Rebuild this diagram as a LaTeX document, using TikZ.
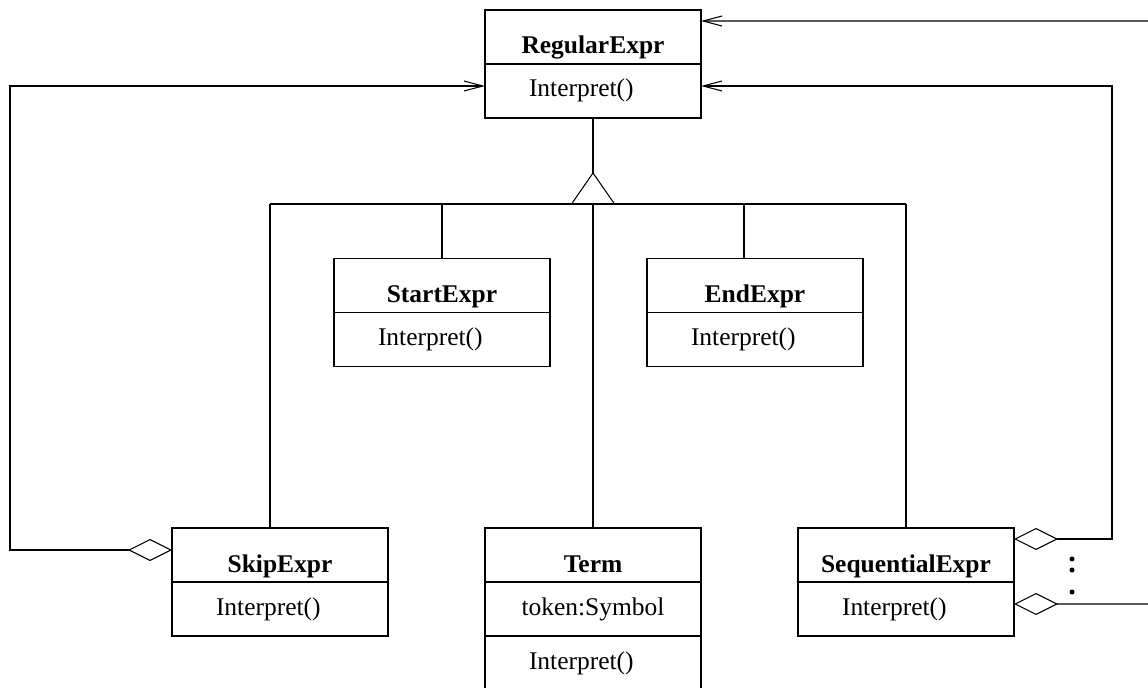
\documentclass[tikz,border=0pt]{standalone}
\usepackage{fontspec}
\setmainfont{Liberation Serif}
\usepackage{tikz}
\usetikzlibrary{positioning, arrows.meta}

\begin{document}
\begin{tikzpicture}[font=\fontsize{14.5}{17}\selectfont, line width=0.6pt,
  cl/.style={rectangle, draw=black, minimum width=4.32cm, minimum height=1.08cm, inner sep=0pt, outer sep=0pt, text height=0.88cm, text depth=0.2cm, font=\fontsize{14.5}{17}\selectfont\bfseries},
  sub/.style={rectangle, draw=black, minimum width=4.32cm, minimum height=1.08cm, inner xsep=0.88cm, inner ysep=0pt, outer sep=0pt, text width=2.56cm, text height=0.66cm, text depth=0.42cm, align=left, anchor=north},
  attr/.style={rectangle, draw=black, minimum width=4.32cm, minimum height=1.08cm, inner sep=0pt, outer sep=0pt, text height=0.66cm, text depth=0.42cm, align=center, anchor=north},
  odiam/.tip={Diamond[open, length=0.88cm, width=0.44cm]},
  barb/.tip={Straight Barb[length=0.38cm, width=0.2cm]}]
%

%help grid
%\draw[help lines] (0,0) grid (23,14);

\useasboundingbox (0,0) rectangle (22.96,13.74);

%%% nodes and boxes

%%% REGULAR EXPR
\node [cl] (regular-cl) at (11.86,13.00) {RegularExpr};
\node [sub] (regular-sub) at (regular-cl.south) {Interpret()};

%%% START EXPR
\node [cl] (start-cl) at (8.84,8.03) {StartExpr};
\node [sub] (start-sub) at (start-cl.south) {Interpret()};

%%% END EXPR
\node [cl] (end-cl) at (15.10,8.03) {EndExpr};
\node [sub] (end-sub) at (end-cl.south) {Interpret()};

%%% SKIP EXPR
\node [cl] (skip-cl) at (5.60,2.64) {SkipExpr};
\node [sub] (skip-sub) at (skip-cl.south) {Interpret()};

%%% TERM
\node [cl] (term-cl) at (11.86,2.64) {Term};
\node [attr] (term-attr) at (term-cl.south) {token:Symbol};
\node [sub] (term-sub) at (term-attr.south) {Interpret()};

%%% SEQUENTIAL EXPR
\node [cl] (seq-cl) at (18.12,2.64) {SequentialExpr};
\node [sub] (seq-sub) at (seq-cl.south) {Interpret()};

%%% connections, arrows

% inheritance
\coordinate (apex) at (11.86,10.28);
\coordinate (bar-left) at (5.40,9.66);
\coordinate (bar-right) at (18.12,9.66);
\coordinate (bar-end) at (14.88,9.66);
\draw (regular-sub) -- (apex);
\draw (apex) -- ++(-0.43,-0.62) -- ++(0.86,0) -- cycle;
\draw (bar-left) -- (bar-right);
\draw (bar-left) -- (bar-left |- skip-cl.north);
\draw (start-cl.north) -- (start-cl.north |- bar-left);
\draw (bar-end) -- (bar-end |- end-cl.north);
\draw (term-cl.north) -- (term-cl.north |- bar-left);
\draw (bar-right) -- (seq-cl.north);

% aggregation
\coordinate (off-top) at (22.96,13.32);
\coordinate (off-bottom) at (22.96,1.66);
\draw [odiam-barb] ([yshift=0.1cm]skip-cl.west) -- ++(-3.24,0) |- ([yshift=0.1cm]regular-sub.west);
\draw [odiam-barb] ([yshift=0.32cm]seq-cl.east) -- ++(1.96,0) |- ([yshift=0.1cm]regular-sub.east);
\draw [odiam-] ([yshift=0.1cm]seq-sub.east) -- (off-bottom);
\draw [-barb] (off-top) -- ([yshift=0.32cm]regular-cl.east);

% more children
\foreach \y in {2.56,2.34,1.90}
  \fill (21.44,\y) circle (0.05);

\end{tikzpicture}
\end{document}
